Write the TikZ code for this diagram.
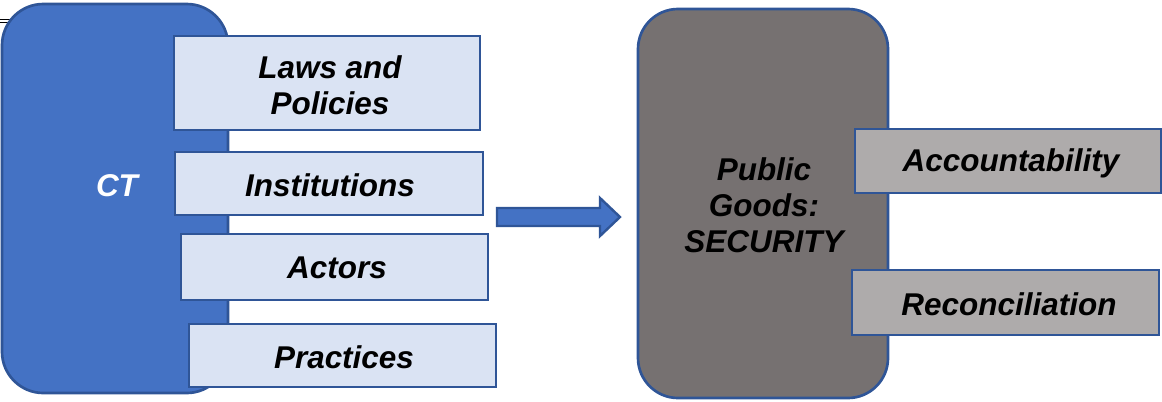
\documentclass[tikz,border=0pt]{standalone}
\usepackage{fontspec}
\setmainfont{Liberation Sans}
\usetikzlibrary{fit}
\definecolor{ctblue}{HTML}{4472C4}
\definecolor{edgeblue}{HTML}{2F5597}
\definecolor{lightblue}{HTML}{DAE3F3}
\definecolor{darkgray}{HTML}{767171}
\definecolor{midgray}{HTML}{AEABAB}
\begin{document}
\begin{tikzpicture}[x=0.75pt,y=-0.75pt,
  lbl/.style={font=\fontsize{23.6}{27}\selectfont\bfseries\itshape, align=center, inner sep=0pt},
  bigshape/.style={draw=edgeblue, line width=2pt, rounded corners=31pt, inner sep=0pt},
  bluebox/.style={draw=edgeblue, line width=2pt, fill=lightblue, inner sep=0pt},
  graybox/.style={draw=edgeblue, line width=2pt, fill=midgray, inner sep=0pt}]
\useasboundingbox (0,0) rectangle (1162,401);
% small artifact lines at top-left
\coordinate (a1) at (0,19);
\coordinate (a2) at (10,19);
\coordinate (a3) at (0,22);
\coordinate (a4) at (10,22);
\draw[line width=0.5pt] (a1) -- (a2) (a3) -- (a4);
% left big shape
\node[bigshape, fill=ctblue, fit={(2,4)(228,393)}] (ct) {};
\node[lbl, text=white] (ctlabel) at (117,186) {CT};
% light boxes
\node[bluebox, fit={(174,36)(480,130)}] (laws) {};
\node[lbl] (lawslabel) at (330,85) {Laws and\\Policies};
\node[bluebox, fit={(175,152)(483,215)}] (inst) {};
\node[lbl] (instlabel) at (330,185) {Institutions};
\node[bluebox, fit={(181,234)(488,300)}] (actors) {};
\node[lbl] (actorslabel) at (337,268) {Actors};
\node[bluebox, fit={(189,324)(496,387)}] (pract) {};
\node[lbl] (practlabel) at (344,357) {Practices};
% block arrow
\draw[draw=edgeblue, line width=1.8pt, fill=ctblue, line join=miter]
  (497,208) -- (600,208) -- (600,198) -- (620,217) -- (600,236) -- (600,226) -- (497,226) -- cycle;
% right big shape
\node[bigshape, fill=darkgray, rounded corners=30pt, fit={(638,9)(888,398)}] (pg) {};
\node[lbl] (pglabel) at (764,205) {Public\\Goods:\\SECURITY};
% gray boxes
\node[graybox, fit={(855,129)(1161,193)}] (acc) {};
\node[lbl] (acclabel) at (1011,163) {Accountability};
\node[graybox, fit={(852,270)(1159,335)}] (rec) {};
\node[lbl] (reclabel) at (1009,304) {Reconciliation};
\end{tikzpicture}
\end{document}
